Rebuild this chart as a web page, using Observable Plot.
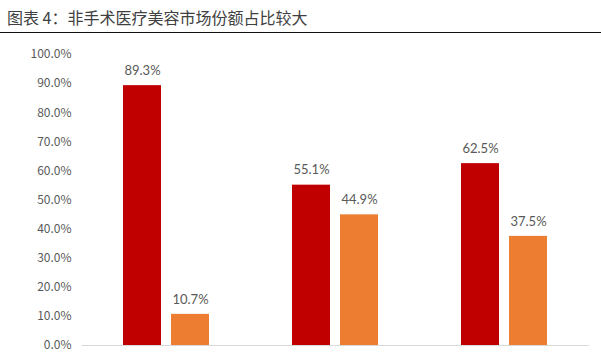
<!DOCTYPE html>
<html><head><meta charset="utf-8">
<script src="https://cdn.jsdelivr.net/npm/d3@7"></script>
<script src="https://cdn.jsdelivr.net/npm/@observablehq/plot@0.6"></script>
<style>
body{margin:0;background:#fff;width:601px;height:352px;overflow:hidden;}
#title{height:32px;border-bottom:1.5px solid #111;box-sizing:content-box;font-family:"Noto Sans CJK SC",sans-serif;font-size:16px;color:#404040;line-height:35px;padding-left:7px;white-space:nowrap;}
#chart svg{display:block;}
</style></head>
<body>
<div id="title">图表 4：非手术医疗美容市场份额占比较大</div>
<div id="chart"></div>
<script>
const groups = ["全球", "美国", "中国"];
const seriesNames = ["非手术", "手术"];
const nonSurgical = [0.893, 0.551, 0.625];
const surgical = [0.107, 0.449, 0.375];
const yTicks = [0, 0.1, 0.2, 0.3, 0.4, 0.5, 0.6, 0.7, 0.8, 0.9, 1.0];
const colors = ["#C00000", "#ED7D31"];

const data = groups.flatMap((g, i) => [
  {group: g, series: seriesNames[0], value: nonSurgical[i]},
  {group: g, series: seriesNames[1], value: surgical[i]}
]);

const chart = Plot.plot({
  width: 601,
  height: 318,
  marginTop: 21,
  marginBottom: 6,
  marginLeft: 82,
  marginRight: 12,
  style: {background: "#fff", overflow: "visible"},
  fx: {domain: groups, padding: 0, axis: null},
  x: {domain: seriesNames, paddingInner: 0.208, paddingOuter: 0.864, axis: null},
  y: {domain: [0, 1], ticks: yTicks, tickFormat: d3.format(".1%"), tickSize: 0, tickPadding: 11, label: null},
  color: {domain: seriesNames, range: colors},
  marks: [
    Plot.axisY({ticks: yTicks, tickFormat: d3.format(".1%"), tickSize: 0, tickPadding: 11, label: null,
      fontSize: 12, fill: "#595959", fontFamily: "Noto Sans CJK SC, sans-serif"}),
    Plot.ruleY([0], {stroke: "#d9d9d9", strokeWidth: 1}),
    Plot.barY(data, {fx: "group", x: "series", y: "value", fill: "series"}),
    Plot.text(data, {fx: "group", x: "series", y: "value", text: d => d3.format(".1%")(d.value),
      dy: -15, fontSize: 13, fill: "#595959", fontFamily: "Lato, sans-serif"})
  ]
});
document.getElementById("chart").appendChild(chart);
</script>
</body></html>
